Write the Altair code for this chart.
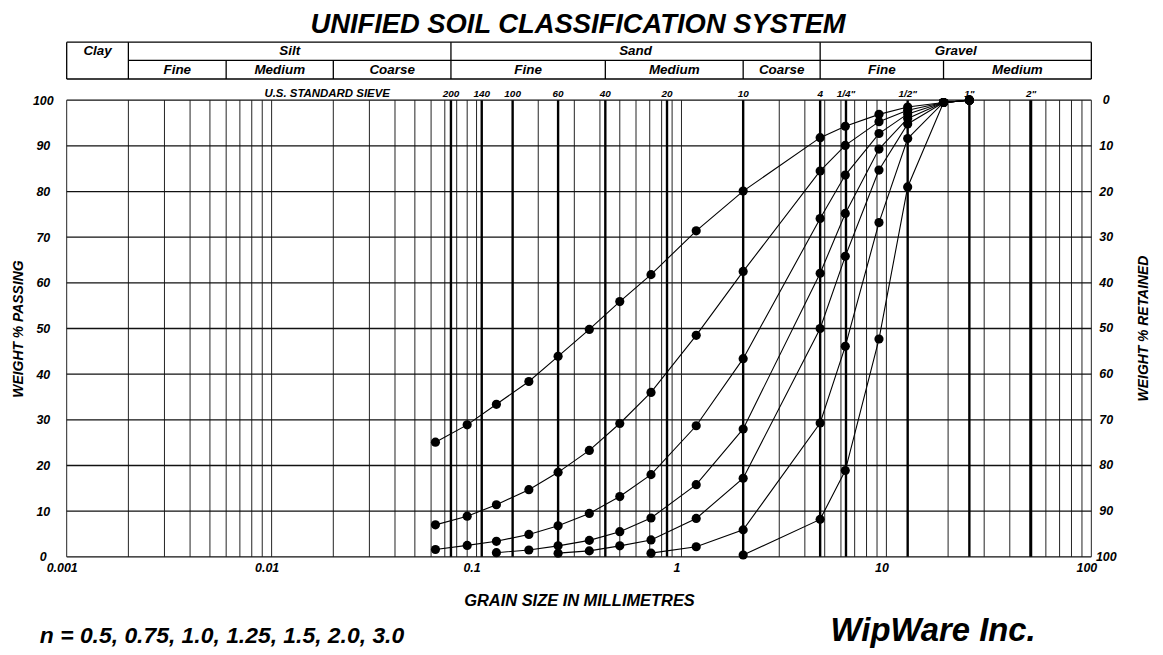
import altair as alt
import pandas as pd

# ---------------- data ----------------
sizes = [0.063, 0.09, 0.125, 0.18, 0.25, 0.355, 0.5, 0.71, 1.18, 2.0, 4.75, 6.3, 9.2, 12.7, 19.0, 25.4]
n_values = ["0.5", "0.75", "1.0", "1.25", "1.5", "2.0", "3.0"]
passing_n050 = [25.1, 28.9, 33.4, 38.4, 43.9, 49.8, 55.9, 61.8, 71.4, 80.1, 91.8, 94.3, 96.9, 98.5, 99.5, 100]
passing_n075 = [7.0, 8.9, 11.4, 14.7, 18.5, 23.3, 29.2, 36.0, 48.5, 62.5, 84.5, 90.1, 95.3, 97.8, 99.5, 100]
passing_n100 = [1.6, 2.5, 3.4, 4.9, 6.8, 9.5, 13.2, 18.0, 28.7, 43.4, 74.1, 83.6, 92.7, 97.0, 99.5, 100]
passing_n125 = [None, None, 0.9, 1.5, 2.4, 3.6, 5.5, 8.5, 15.8, 28.0, 62.1, 75.2, 89.3, 96.0, 99.5, 100]
passing_n150 = [None, None, None, None, 0.8, 1.3, 2.4, 3.7, 8.4, 17.2, 50.0, 65.8, 84.7, 94.8, 99.5, 100]
passing_n200 = [None, None, None, None, None, None, None, 0.8, 2.2, 5.9, 29.3, 46.1, 73.2, 91.6, 99.5, 100]
passing_n300 = [None, None, None, None, None, None, None, None, None, 0.4, 8.2, 18.9, 47.7, 81.0, 99.5, 100]

sieve_mm = [0.075, 0.106, 0.15, 0.25, 0.425, 0.85, 2.0, 4.75, 6.35, 12.7, 25.4, 50.8]
sieve_labels = ["200", "140", "100", "60", "40", "20", "10", "4", '1/4"', '1/2"', '1"', '2"']

grid_mm = [round(m * 10.0 ** k, 6) for k in range(-3, 2) for m in range(1, 10)] + [100]
decade_ticks = [0.001, 0.01, 0.1, 1, 10, 100]
passing_ticks = [0, 10, 20, 30, 40, 50, 60, 70, 80, 90, 100]

class_names = ["Clay", "Silt", "Sand", "Gravel"]
class_lo = [0.001, 0.002, 0.075, 4.75]
class_hi = [0.002, 0.075, 4.75, 100]
sub_names = ["Fine", "Medium", "Coarse", "Fine", "Medium", "Coarse", "Fine", "Medium"]
sub_lo = [0.002, 0.006, 0.02, 0.075, 0.425, 2.0, 4.75, 19.0]
sub_hi = [0.006, 0.02, 0.075, 0.425, 2.0, 4.75, 19.0, 100]
major_bounds = [0.001, 0.002, 0.075, 4.75, 100]
minor_bounds = [0.006, 0.02, 0.425, 2.0, 19.0]

title_text = "UNIFIED SOIL CLASSIFICATION SYSTEM"
n_text = "n = 0.5, 0.75, 1.0, 1.25, 1.5, 2.0, 3.0"
brand_text = "WipWare Inc."

# ---------------- tables ----------------
series = [passing_n050, passing_n075, passing_n100, passing_n125, passing_n150, passing_n200, passing_n300]
rows = []
for n, vals in zip(n_values, series):
    for s, v in zip(sizes, vals):
        if v is not None:
            rows.append({"size": s, "passing": v, "n": n})
curves = pd.DataFrame(rows)

W, H = 1030, 459
FONT = "Liberation Sans"
BI = dict(font=FONT, fontStyle="italic", fontWeight="bold", color="black")

xscale = alt.Scale(type="log", domain=[0.001, 100], nice=False)
yscale = alt.Scale(domain=[0, 100], nice=False, zero=False)

xaxis = alt.Axis(values=decade_ticks, labelExpr="'' + datum.value", grid=False, ticks=False,
                 tickSize=0, domain=False, labelFlush=False, labelOffset=-5, labelPadding=5,
                 labelFont=FONT, labelFontSize=12.5, labelFontStyle="italic",
                 labelFontWeight="bold", labelColor="black",
                 title="GRAIN SIZE IN MILLIMETRES", titleFont=FONT, titleFontSize=16.5,
                 titleFontStyle="italic", titleFontWeight="bold", titleColor="black",
                 titleX=W / 2, titleY=44, titleBaseline="middle", titleAlign="center")
yaxis = alt.Axis(values=passing_ticks, grid=False, ticks=False, tickSize=0, domain=False,
                 labelFlush=False, labelAlign="center", labelBaseline="middle", labelPadding=24,
                 labelFont=FONT, labelFontSize=12.5, labelFontStyle="italic",
                 labelFontWeight="bold", labelColor="black",
                 title="WEIGHT % PASSING", titleFont=FONT, titleFontSize=14,
                 titleFontStyle="italic", titleFontWeight="bold", titleColor="black",
                 titleX=-48, titleY=H / 2, titleAngle=270, titleAlign="center",
                 titleBaseline="middle")


def X(field):
    return alt.X(field, type="quantitative", scale=xscale, axis=xaxis)


def Y(field):
    return alt.Y(field, type="quantitative", scale=yscale, axis=yaxis)


vgrid = alt.Chart(pd.DataFrame({"g": grid_mm})).mark_rule(
    color="#222222", strokeWidth=1).encode(x=X("g"))
hgrid = alt.Chart(pd.DataFrame({"p": passing_ticks})).mark_rule(
    color="#111111", strokeWidth=1.3).encode(y=Y("p"))
sieve_df = pd.DataFrame({"s": sieve_mm, "lab": sieve_labels})
sieves = alt.Chart(sieve_df).mark_rule(color="black", strokeWidth=2.4).encode(x=X("s"))
sieve_text = alt.Chart(sieve_df).mark_text(fontSize=10, baseline="middle", align="center",
                                           **BI).encode(x=X("s"), y=alt.value(-6.5), text="lab:N")

# header table
TOP, MID, BOT = -58.3, -40.0, -21.3
tbl_top = alt.Chart(pd.DataFrame({"lo": [class_lo[0]], "hi": [class_hi[-1]]})).mark_rule(
    color="black", strokeWidth=1.3).encode(x=X("lo"), x2="hi", y=alt.value(TOP))
tbl_mid = alt.Chart(pd.DataFrame({"lo": [sub_lo[0]], "hi": [sub_hi[-1]]})).mark_rule(
    color="black", strokeWidth=1.3).encode(x=X("lo"), x2="hi", y=alt.value(MID))
tbl_bot = alt.Chart(pd.DataFrame({"lo": [class_lo[0]], "hi": [class_hi[-1]]})).mark_rule(
    color="black", strokeWidth=1.3).encode(x=X("lo"), x2="hi", y=alt.value(BOT))
tbl_major = alt.Chart(pd.DataFrame({"b": major_bounds})).mark_rule(
    color="black", strokeWidth=1.3).encode(x=X("b"), y=alt.value(TOP), y2=alt.value(BOT))
tbl_minor = alt.Chart(pd.DataFrame({"b": minor_bounds})).mark_rule(
    color="black", strokeWidth=1.3).encode(x=X("b"), y=alt.value(MID), y2=alt.value(BOT))
class_txt = alt.Chart(pd.DataFrame({"name": class_names, "lo": class_lo, "hi": class_hi})).transform_calculate(
    mid="sqrt(datum.lo * datum.hi)").mark_text(fontSize=13.5, baseline="middle", **BI).encode(
    x=X("mid"), y=alt.value(-49), text="name:N")
sub_txt = alt.Chart(pd.DataFrame({"name": sub_names, "lo": sub_lo, "hi": sub_hi})).transform_calculate(
    mid="sqrt(datum.lo * datum.hi)").mark_text(fontSize=13.5, baseline="middle", **BI).encode(
    x=X("mid"), y=alt.value(-30.5), text="name:N")

# curves
lines = alt.Chart(curves).mark_line(color="black", strokeWidth=1.1).encode(
    x=X("size"), y=Y("passing"), detail="n:N")
dots = alt.Chart(curves).mark_point(filled=True, color="black", opacity=1, size=85).encode(
    x=X("size"), y=Y("passing"), detail="n:N")

# right-hand "retained" labels
right_lab = alt.Chart(pd.DataFrame({"p": passing_ticks})).transform_calculate(
    r="'' + (100 - datum.p)").mark_text(fontSize=12.5, baseline="middle", align="center", **BI).encode(
    y=Y("p"), x=alt.value(W + 15), text="r:N")

one = pd.DataFrame({"t": [0]})
right_title = alt.Chart(one).mark_text(text="WEIGHT % RETAINED", angle=270, fontSize=14,
                                       baseline="middle", align="center", **BI).encode(
    x=alt.value(1083), y=alt.value(H / 2))
main_title = alt.Chart(one).mark_text(text=title_text, fontSize=27.5, baseline="alphabetic",
                                      align="center", **BI).encode(x=alt.value(W / 2 - 1), y=alt.value(-68))
sieve_head = alt.Chart(one).mark_text(text="U.S. STANDARD SIEVE", fontSize=11.5, baseline="middle",
                                      align="right", **BI).encode(x=alt.value(325), y=alt.value(-6.5))
n_note = alt.Chart(one).mark_text(text=n_text, fontSize=23, baseline="alphabetic", align="left",
                                  **BI).encode(x=alt.value(-27), y=alt.value(546))
brand = alt.Chart(one).mark_text(text=brand_text, fontSize=33, baseline="alphabetic", align="center",
                                 **BI).encode(x=alt.value(871), y=alt.value(544))

chart = alt.layer(
    vgrid, hgrid, sieves, sieve_text,
    tbl_top, tbl_mid, tbl_bot, tbl_major, tbl_minor, class_txt, sub_txt,
    lines, dots, right_lab, right_title, main_title, sieve_head, n_note, brand,
).properties(
    width=W, height=H,
    padding={"left": 59, "top": 91, "right": 64, "bottom": 95},
    autosize=alt.AutoSizeParams(type="none"),
    background="white",
).configure_view(strokeWidth=0)

chart.save("out.html", embed_options={"renderer": "svg", "actions": False})
